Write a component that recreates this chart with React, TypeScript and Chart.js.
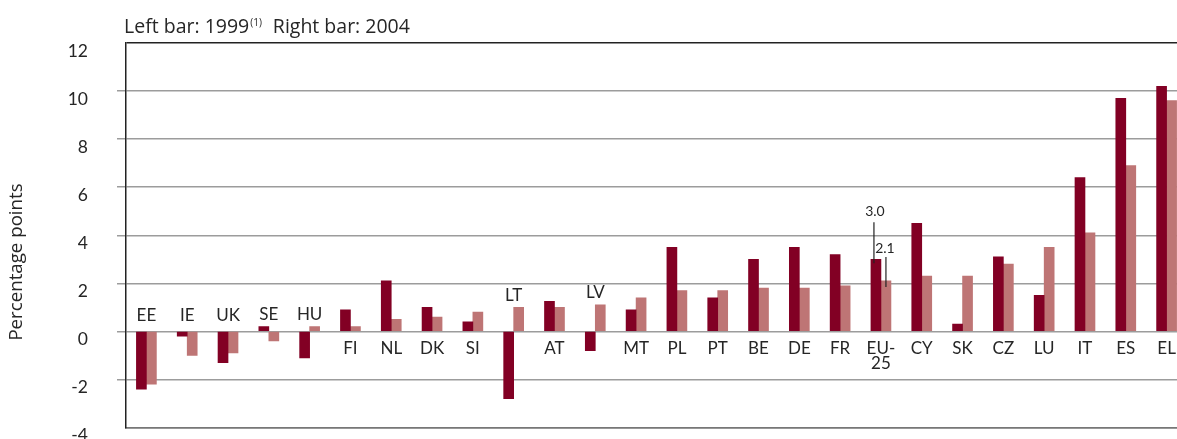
import React, { useEffect, useRef } from 'react';
import { Chart, registerables } from 'chart.js';

Chart.register(...registerables);

const categories = ['EE', 'IE', 'UK', 'SE', 'HU', 'FI', 'NL', 'DK', 'SI', 'LT', 'AT', 'LV', 'MT', 'PL', 'PT', 'BE', 'DE', 'FR', 'EU-\n25', 'CY', 'SK', 'CZ', 'LU', 'IT', 'ES', 'EL'];
const values1999 = [-2.4, -0.2, -1.3, 0.2, -1.1, 0.9, 2.1, 1.0, 0.4, -2.8, 1.25, -0.8, 0.9, 3.5, 1.4, 3.0, 3.5, 3.2, 3.0, 4.5, 0.3, 3.1, 1.5, 6.4, 9.7, 10.2];
const values2004 = [-2.2, -1.0, -0.9, -0.4, 0.2, 0.2, 0.5, 0.6, 0.8, 1.0, 1.0, 1.1, 1.4, 1.7, 1.7, 1.8, 1.8, 1.9, 2.1, 2.3, 2.3, 2.8, 3.5, 4.1, 6.9, 9.6];
const yTicks = [-4, -2, 0, 2, 4, 6, 8, 10, 12];
const annotatedCategory = 'EU-\n25';
const titleMain = 'Left bar: 1999';
const titleSup = '(1)';
const titleRest = 'Right bar: 2004';
const yTitle = 'Percentage points';

const DARK = '#820024';
const LIGHT = '#BE7575';
const TEXT = '#262626';
const FONT = 'Lato';
const FONT2 = '"Open Sans"';

const overlayPlugin = {
  id: 'overlay',
  afterDatasetsDraw(chart: any) {
    const { ctx } = chart;
    const x = chart.scales.x;
    const y = chart.scales.y;
    const zero = y.getPixelForValue(0);
    ctx.save();
    ctx.fillStyle = TEXT;
    ctx.font = `17px ${FONT}`;
    ctx.textAlign = 'center';
    ctx.textBaseline = 'middle';
    categories.forEach((c, i) => {
      const cx = x.getPixelForValue(i);
      const a = values1999[i];
      const b = values2004[i];
      const lines = c.split('\n');
      if (a < 0 || b < 0) {
        const top = y.getPixelForValue(Math.max(a, b, 0));
        const cy = Math.min(zero - 16, top - 12);
        ctx.fillText(lines.join(''), cx, cy);
      } else {
        lines.forEach((l, k) => ctx.fillText(l, cx, zero + 17 + k * 15));
      }
    });

    // annotations
    const idx = categories.indexOf(annotatedCategory);
    if (idx >= 0) {
      const d = chart.getDatasetMeta(0).data[idx];
      const l = chart.getDatasetMeta(1).data[idx];
      ctx.font = `14px ${FONT}`;
      ctx.strokeStyle = '#222';
      ctx.lineWidth = 1.2;
      ctx.fillText(values1999[idx].toFixed(1), d.x - 1, d.y - 48);
      ctx.beginPath();
      ctx.moveTo(d.x - 2, d.y - 37);
      ctx.lineTo(d.x - 2, d.y + 4);
      ctx.stroke();
      ctx.fillText(values2004[idx].toFixed(1), l.x - 1, l.y - 32);
      ctx.beginPath();
      ctx.moveTo(l.x, l.y - 24);
      ctx.lineTo(l.x, l.y + 6);
      ctx.stroke();
    }

    // title
    ctx.textAlign = 'left';
    ctx.textBaseline = 'alphabetic';
    ctx.font = `19.5px ${FONT2}`;
    let tx = 124;
    ctx.fillText(titleMain, tx, 33);
    tx += ctx.measureText(titleMain).width + 1;
    ctx.font = `10px ${FONT2}`;
    ctx.fillText(titleSup, tx, 26);
    tx += ctx.measureText(titleSup).width + 11;
    ctx.font = `19.5px ${FONT2}`;
    ctx.fillText(titleRest, tx, 33);

    // y title
    ctx.save();
    ctx.translate(17, 262);
    ctx.rotate(-Math.PI / 2);
    ctx.textAlign = 'center';
    ctx.textBaseline = 'middle';
    ctx.font = `18.7px ${FONT2}`;
    ctx.fillText(yTitle, 0, 0);
    ctx.restore();
    ctx.restore();
  },
};

export default function App() {
  const ref = useRef<HTMLCanvasElement | null>(null);
  useEffect(() => {
    if (!ref.current) return;
    const chart = new Chart(ref.current, {
      type: 'bar',
      data: {
        labels: categories,
        datasets: [
          { label: '1999', data: values1999, backgroundColor: DARK, barThickness: 10, borderWidth: 0 },
          { label: '2004', data: values2004, backgroundColor: LIGHT, barThickness: 10, borderWidth: 0 },
        ],
      },
      options: {
        animation: false,
        responsive: false,
        layout: { padding: { top: 43, bottom: 0, right: 3, left: 0 } },
        plugins: { legend: { display: false }, tooltip: { enabled: false }, title: { display: false } },
        scales: {
          x: {
            type: 'category',
            offset: true,
            grid: { display: false, drawTicks: false },
            ticks: { display: false },
            border: { display: true, color: '#777', width: 1.5 },
            afterFit(s: any) { s.height = 0; },
          },
          y: {
            min: yTicks[0],
            max: yTicks[yTicks.length - 1],
            afterBuildTicks(s: any) { s.ticks = yTicks.map((v) => ({ value: v })); },
            ticks: {
              padding: 29,
              labelOffset: 8,
              color: TEXT,
              font: { family: FONT, size: 17.5 },
              callback: (v: any) => String(v),
            },
            grid: {
              color: (c: any) => (c.tick && c.tick.value === 12 ? '#222' : c.tick && c.tick.value === -4 ? '#777' : '#9c9c9c'),
              tickColor: (c: any) => (c.tick && (c.tick.value === 12 || c.tick.value === -4) ? 'rgba(0,0,0,0)' : '#9c9c9c'),
              lineWidth: 1.5,
              tickLength: 9,
            },
            border: { color: '#222', width: 1.5 },
            afterFit(s: any) { s.width = 126; },
          },
        },
      },
      plugins: [overlayPlugin],
    });
    return () => chart.destroy();
  }, []);
  return (
    <div style={{ position: 'absolute', left: 0, top: 0, width: 1177, height: 439, overflow: 'hidden', background: '#fff' }}>
      <canvas ref={ref} width={1190} height={467} style={{ display: 'block' }} />
    </div>
  );
}
